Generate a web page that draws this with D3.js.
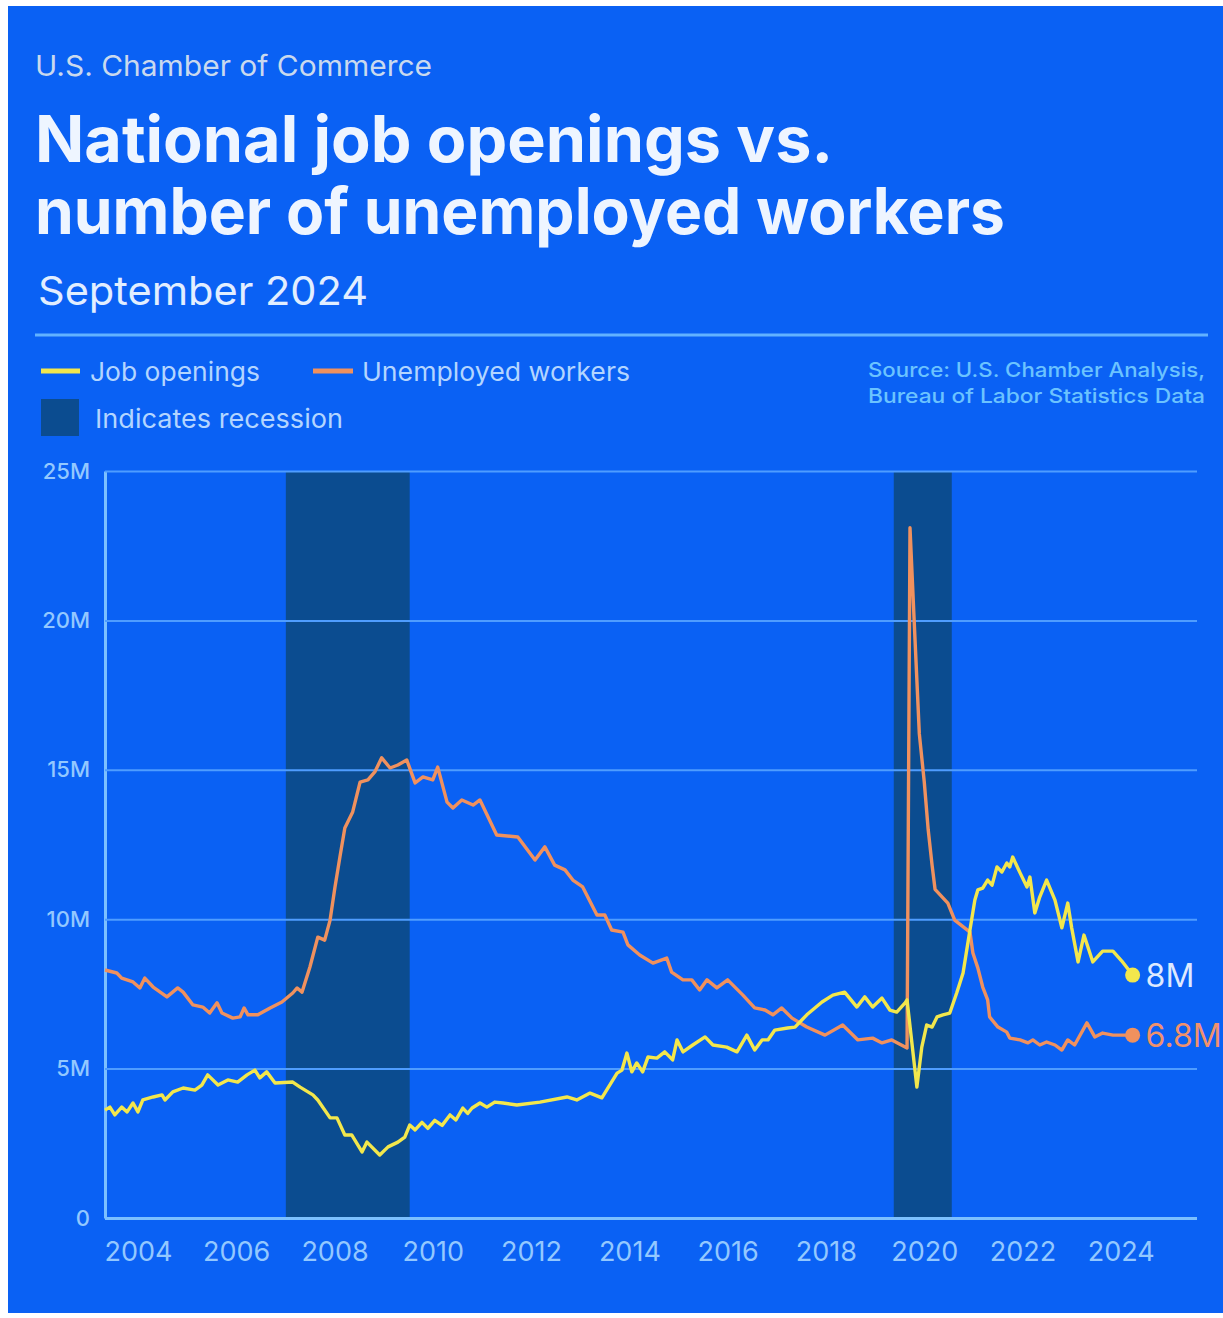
<!DOCTYPE html>
<html>
<head>
<meta charset="utf-8">
<title>National job openings vs. number of unemployed workers</title>
<script src="https://cdn.jsdelivr.net/npm/d3@7"></script>
<style>
  body { margin: 0; background: #fff; }
  svg { display: block; }
  text { font-family: Inter, "Liberation Sans", Arial, sans-serif; }
</style>
</head>
<body>
<svg id="chart" width="1223" height="1318"></svg>
<script>
// values, in millions, dates as decimal years
var jobDates = [2003.33,2003.43,2003.53,2003.67,2003.78,2003.90,2004.00,2004.10,2004.31,2004.49,2004.55,2004.71,2004.92,
  2005.16,2005.30,2005.42,2005.63,2005.83,2006.03,2006.22,2006.38,2006.48,2006.62,2006.79,2007.15,2007.30,2007.56,2007.66,
  2007.91,2008.05,2008.21,2008.35,2008.56,2008.66,2008.92,2009.09,2009.29,2009.43,2009.53,2009.64,2009.78,2009.90,2010.04,
  2010.19,2010.35,2010.47,2010.61,2010.71,2010.80,2010.96,2011.10,2011.26,2011.43,2011.71,2012.18,2012.73,2012.93,2013.20,
  2013.44,2013.75,2013.85,2013.95,2014.05,2014.15,2014.27,2014.38,2014.56,2014.72,2014.88,2014.97,2015.09,2015.29,2015.54,
  2015.70,2015.98,2016.19,2016.39,2016.55,2016.70,2016.82,2016.96,2017.22,2017.37,2017.61,2017.92,2018.14,2018.38,2018.63,
  2018.79,2018.95,2019.14,2019.30,2019.44,2019.61,2019.65,2019.85,2019.95,2020.05,2020.16,2020.26,2020.38,2020.52,2020.66,
  2020.79,2020.93,2021.03,2021.09,2021.19,2021.29,2021.38,2021.48,2021.58,2021.68,2021.74,2021.80,2021.95,2022.09,2022.15,
  2022.25,2022.35,2022.49,2022.66,2022.80,2022.92,2023.00,2023.13,2023.25,2023.43,2023.63,2023.84,2024.02,2024.24];
var jobValues = [3.61,3.71,3.45,3.71,3.55,3.85,3.55,3.95,4.05,4.12,3.95,4.22,4.35,
  4.28,4.45,4.79,4.45,4.62,4.55,4.79,4.95,4.69,4.89,4.52,4.55,4.38,4.12,3.95,
  3.35,3.35,2.78,2.78,2.21,2.54,2.11,2.38,2.54,2.71,3.11,2.95,3.20,3.00,3.27,
  3.10,3.45,3.28,3.68,3.50,3.68,3.85,3.71,3.88,3.85,3.78,3.88,4.05,3.95,4.18,
  4.02,4.85,4.95,5.52,4.89,5.19,4.89,5.39,5.35,5.56,5.29,5.96,5.56,5.79,6.06,
  5.79,5.72,5.56,6.12,5.62,5.96,5.96,6.29,6.36,6.39,6.80,7.23,7.46,7.56,7.06,
  7.40,7.06,7.36,6.96,6.89,7.20,7.30,4.38,5.72,6.46,6.39,6.73,6.80,6.86,7.53,
  8.20,9.64,10.64,10.98,11.04,11.31,11.14,11.75,11.58,11.88,11.75,12.08,11.55,11.08,11.41,
  10.21,10.74,11.31,10.64,9.71,10.54,9.71,8.57,9.47,8.57,8.93,8.93,8.60,8.13];

var unempDates = [2003.33,2003.57,2003.67,2003.90,2004.04,2004.14,2004.31,2004.59,2004.81,2004.92,2005.12,2005.32,2005.46,
  2005.61,2005.71,2005.93,2006.08,2006.16,2006.24,2006.44,2006.69,2006.93,2007.15,2007.24,2007.34,2007.50,2007.66,2007.80,
  2007.91,2008.01,2008.11,2008.21,2008.37,2008.52,2008.68,2008.82,2008.96,2009.13,2009.29,2009.47,2009.64,2009.80,2010.00,
  2010.10,2010.29,2010.41,2010.59,2010.82,2010.96,2011.30,2011.73,2012.08,2012.28,2012.48,2012.69,2012.85,2013.05,2013.34,
  2013.50,2013.64,2013.87,2013.97,2014.21,2014.48,2014.76,2014.86,2015.09,2015.27,2015.43,2015.58,2015.78,2016.00,2016.31,
  2016.55,2016.76,2016.92,2017.10,2017.31,2017.61,2017.98,2018.34,2018.65,2018.95,2019.14,2019.34,2019.65,2019.71,2019.80,
  2019.90,2020.00,2020.08,2020.16,2020.22,2020.48,2020.62,2020.93,2020.99,2021.09,2021.19,2021.29,2021.33,2021.50,2021.68,
  2021.74,2021.95,2022.11,2022.21,2022.35,2022.49,2022.66,2022.80,2022.92,2023.06,2023.31,2023.47,2023.63,2023.84,2024.24];
var unempValues = [8.30,8.20,8.03,7.90,7.70,8.03,7.73,7.40,7.70,7.56,7.13,7.06,6.86,
  7.20,6.86,6.69,6.73,7.03,6.80,6.80,7.03,7.23,7.53,7.70,7.56,8.40,9.40,9.30,
  9.97,11.08,12.08,13.05,13.59,14.59,14.66,14.93,15.40,15.06,15.16,15.33,14.56,14.76,14.66,
  15.09,13.92,13.72,13.99,13.82,13.99,12.82,12.75,11.98,12.42,11.81,11.65,11.31,11.08,10.14,
  10.14,9.64,9.57,9.14,8.80,8.53,8.70,8.23,7.97,7.97,7.63,7.97,7.70,7.97,7.46,
  7.03,6.96,6.80,7.03,6.69,6.39,6.12,6.46,5.96,6.02,5.86,5.96,5.69,23.10,19.80,
  16.20,14.60,13.00,11.80,11.00,10.54,9.97,9.57,8.87,8.37,7.73,7.30,6.73,6.39,6.22,
  6.02,5.96,5.86,5.96,5.79,5.89,5.79,5.62,5.96,5.79,6.53,6.06,6.19,6.12,6.12];

var recessionStarts = [2007.01, 2019.38];
var recessionEnds = [2009.53, 2020.56];

var yTicks = [0, 5, 10, 15, 20, 25];
var xTicks = [2004, 2006, 2008, 2010, 2012, 2014, 2016, 2018, 2020, 2022, 2024];
var endLabels = ["8M", "6.8M"];

var bg = "#0a61f4", bandCol = "#0b4c90", gridCol = "#4f9dff", axisCol = "#7cc0ff";
var tickCol = "#93c8ff", legendCol = "#b3d5ff";
var yellow = "#f3e74c", orange = "#f0915e";

var W = 1223, H = 1318;
var svg = d3.select("#chart");

svg.append("rect").attr("x", 8).attr("y", 6).attr("width", W - 8).attr("height", 1307).attr("fill", bg);

// header
svg.append("text").attr("x", 35).attr("y", 76).attr("font-size", 29).attr("fill", "#c9d9ee")
  .attr("textLength", 397).attr("lengthAdjust", "spacingAndGlyphs").text("U.S. Chamber of Commerce");
svg.append("text").attr("x", 35).attr("y", 162).attr("font-size", 64).attr("font-weight", 700).attr("fill", "#eef5ff")
  .attr("textLength", 798).attr("lengthAdjust", "spacingAndGlyphs").text("National job openings vs.");
svg.append("text").attr("x", 35).attr("y", 234).attr("font-size", 64).attr("font-weight", 700).attr("fill", "#eef5ff")
  .attr("textLength", 970).attr("lengthAdjust", "spacingAndGlyphs").text("number of unemployed workers");
svg.append("text").attr("x", 38).attr("y", 305).attr("font-size", 40).attr("fill", "#e2eeff")
  .attr("textLength", 330).attr("lengthAdjust", "spacingAndGlyphs").text("September 2024");
svg.append("line").attr("x1", 35).attr("x2", 1208).attr("y1", 335).attr("y2", 335)
  .attr("stroke", "#62b2ff").attr("stroke-width", 3);

// legend
svg.append("line").attr("x1", 41).attr("x2", 80).attr("y1", 371).attr("y2", 371).attr("stroke", yellow).attr("stroke-width", 5);
svg.append("text").attr("x", 90).attr("y", 381).attr("font-size", 26).attr("fill", legendCol)
  .attr("textLength", 170).attr("lengthAdjust", "spacingAndGlyphs").text("Job openings");
svg.append("line").attr("x1", 313).attr("x2", 353).attr("y1", 371).attr("y2", 371).attr("stroke", orange).attr("stroke-width", 5);
svg.append("text").attr("x", 362).attr("y", 381).attr("font-size", 26).attr("fill", legendCol)
  .attr("textLength", 268).attr("lengthAdjust", "spacingAndGlyphs").text("Unemployed workers");
svg.append("rect").attr("x", 41).attr("y", 399).attr("width", 38).attr("height", 37).attr("fill", bandCol);
svg.append("text").attr("x", 95).attr("y", 428).attr("font-size", 26).attr("fill", legendCol)
  .attr("textLength", 248).attr("lengthAdjust", "spacingAndGlyphs").text("Indicates recession");

svg.append("text").attr("x", 1205).attr("y", 377).attr("text-anchor", "end").attr("font-size", 20).attr("font-weight", 500)
  .attr("fill", "#6bc3ff").attr("textLength", 337).attr("lengthAdjust", "spacingAndGlyphs").text("Source: U.S. Chamber Analysis,");
svg.append("text").attr("x", 1205).attr("y", 403).attr("text-anchor", "end").attr("font-size", 20).attr("font-weight", 500)
  .attr("fill", "#6bc3ff").attr("textLength", 337).attr("lengthAdjust", "spacingAndGlyphs").text("Bureau of Labor Statistics Data");

// scales
var x = d3.scaleLinear().domain([2003.33, 2025.55]).range([105, 1197]);
var y = d3.scaleLinear().domain([0, 25]).range([1218, 471]);

// recession bands
svg.append("g").selectAll("rect")
  .data(recessionStarts.map(function (s, i) { return { s: s, e: recessionEnds[i] }; }))
  .enter().append("rect")
  .attr("x", function (d) { return x(d.s); })
  .attr("width", function (d) { return x(d.e) - x(d.s); })
  .attr("y", y(25)).attr("height", y(0) - y(25))
  .attr("fill", bandCol);

// y axis + gridlines
var yAxis = d3.axisLeft(y).tickValues(yTicks)
  .tickFormat(function (d) { return d === 0 ? "0" : d + "M"; })
  .tickSize(-(x.range()[1] - x.range()[0])).tickSizeOuter(0).tickPadding(15);
var gy = svg.append("g").attr("transform", "translate(" + x.range()[0] + ",0)").call(yAxis);
gy.select(".domain").attr("stroke", axisCol).attr("stroke-width", 3);
gy.selectAll(".tick line").attr("stroke", gridCol).attr("stroke-width", 2);
gy.selectAll(".tick").filter(function (d) { return d === 0; }).select("line")
  .attr("stroke", axisCol).attr("stroke-width", 3);
gy.selectAll(".tick text").attr("fill", tickCol).attr("font-size", 22).attr("font-weight", 500)
  .attr("font-family", "Inter, 'Liberation Sans', sans-serif");

// x axis
var xAxis = d3.axisBottom(x).tickValues(xTicks).tickFormat(d3.format("d")).tickSize(0).tickPadding(24);
var gx = svg.append("g").attr("transform", "translate(0," + y(0) + ")").call(xAxis);
gx.select(".domain").remove();
gx.selectAll(".tick text").attr("fill", tickCol).attr("font-size", 27)
  .attr("font-family", "Inter, 'Liberation Sans', sans-serif");

// lines
var unemp = unempDates.map(function (t, i) { return { t: t, v: unempValues[i] }; });
var jobs = jobDates.map(function (t, i) { return { t: t, v: jobValues[i] }; });
var line = d3.line().x(function (d) { return x(d.t); }).y(function (d) { return y(d.v); });

svg.append("path").datum(unemp).attr("d", line).attr("fill", "none")
  .attr("stroke", orange).attr("stroke-width", 3.4).attr("stroke-linejoin", "round");
svg.append("path").datum(jobs).attr("d", line).attr("fill", "none")
  .attr("stroke", yellow).attr("stroke-width", 3.4).attr("stroke-linejoin", "round");

// end dots and labels
var ends = [
  { d: jobs[jobs.length - 1], c: yellow, tc: "#dde9ff", label: endLabels[0] },
  { d: unemp[unemp.length - 1], c: orange, tc: "#f0916c", label: endLabels[1] }
];
svg.selectAll(".enddot").data(ends).enter().append("circle")
  .attr("cx", function (e) { return x(e.d.t); }).attr("cy", function (e) { return y(e.d.v); })
  .attr("r", 7.5).attr("fill", function (e) { return e.c; });
svg.selectAll(".endlabel").data(ends).enter().append("text")
  .attr("x", function (e) { return x(e.d.t) + 13; }).attr("y", function (e) { return y(e.d.v) + 12; })
  .attr("font-size", 32).attr("fill", function (e) { return e.tc; })
  .text(function (e) { return e.label; });
</script>
</body>
</html>
